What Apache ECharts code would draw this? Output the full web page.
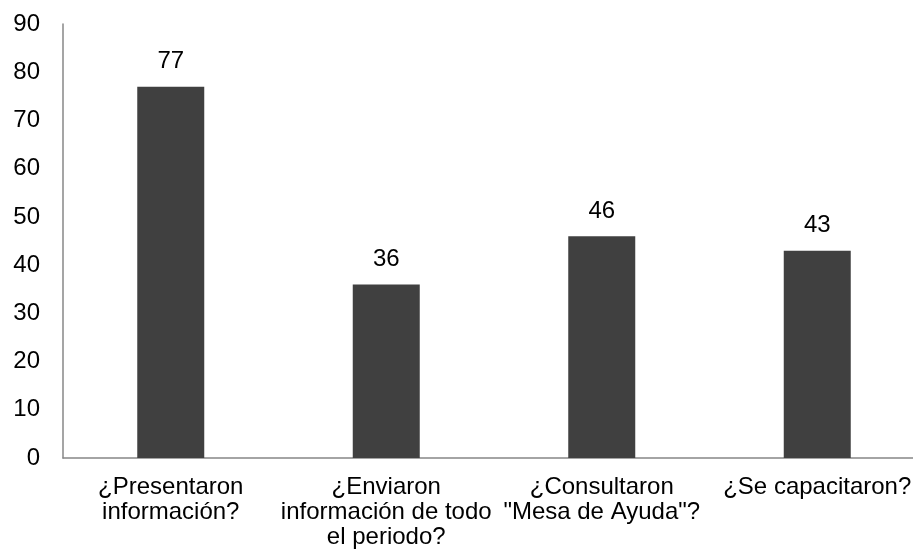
<!DOCTYPE html>
<html>
<head>
<meta charset="utf-8">
<script src="https://cdn.jsdelivr.net/npm/echarts@6/dist/echarts.min.js"></script>
<style>
  html, body { margin: 0; padding: 0; background: #fff; }
  #chart { width: 913px; height: 554px; }
</style>
</head>
<body>
<div id="chart"></div>
<script>
// Survey questions and counts of affirmative answers
const categories = [
  '¿Presentaron\ninformación?',
  '¿Enviaron\ninformación de todo\nel periodo?',
  '¿Consultaron\n"Mesa de Ayuda"?',
  '¿Se capacitaron?'
];
const values = [77, 36, 46, 43];
const yTicks = { min: 0, max: 90, interval: 10 };

const FONT = '"Liberation Sans", Arial, sans-serif';
const chart = echarts.init(document.getElementById('chart'), null, { renderer: 'canvas' });

chart.setOption({
  animation: false,
  grid: { left: 63, right: -12, top: 24, bottom: 96, outerBoundsMode: 'none' },
  xAxis: {
    type: 'category',
    data: categories,
    axisLine: { lineStyle: { color: '#878787', width: 1.5 } },
    axisTick: { show: false },
    axisLabel: {
      interval: 0,
      color: '#000',
      fontFamily: FONT,
      fontSize: 24,
      lineHeight: 25,
      margin: 17,
      align: 'center'
    },
    splitLine: { show: false }
  },
  yAxis: {
    type: 'value',
    min: yTicks.min,
    max: yTicks.max,
    interval: yTicks.interval,
    axisLine: { show: true, lineStyle: { color: '#878787', width: 1.5 } },
    axisTick: { show: false },
    axisLabel: {
      color: '#000',
      fontFamily: FONT,
      fontSize: 24,
      margin: 23
    },
    splitLine: { show: false }
  },
  series: [{
    type: 'bar',
    data: values,
    barWidth: 67,
    itemStyle: { color: '#404040' },
    label: {
      show: true,
      position: 'top',
      distance: 13,
      color: '#000',
      fontFamily: FONT,
      fontSize: 24
    }
  }]
});
</script>
</body>
</html>
